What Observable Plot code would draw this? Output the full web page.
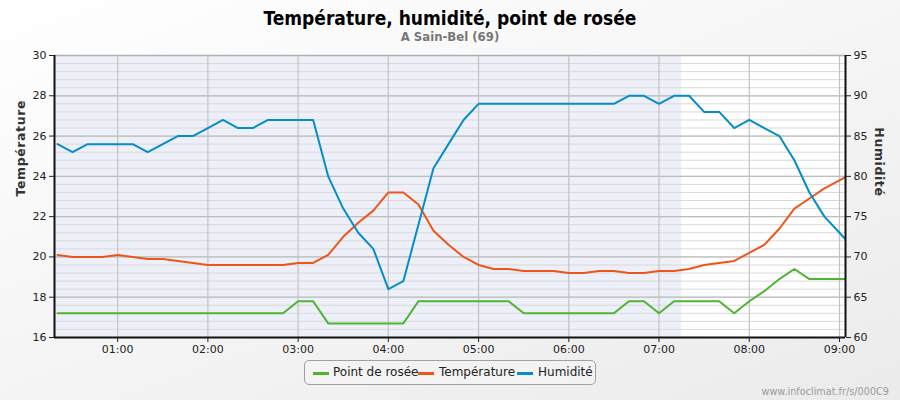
<!DOCTYPE html>
<html>
<head>
<meta charset="utf-8">
<script src="https://cdn.jsdelivr.net/npm/d3@7"></script>
<script src="https://cdn.jsdelivr.net/npm/@observablehq/plot@0.6"></script>
<style>
  body { margin: 0; }
  #wrap { position: relative; width: 900px; height: 400px; overflow: hidden;
    background: linear-gradient(160deg, #ffffff 0%, #f6f6f6 45%, #ebebeb 100%);
    font-family: "DejaVu Sans", sans-serif; }
  #title { position: absolute; top: 6.5px; left: 0; width: 900px; text-align: center;
    font-family: "DejaVu Sans Condensed", "DejaVu Sans", sans-serif; font-stretch: condensed;
    font-weight: bold; font-size: 19px; line-height: 22px; color: #000; }
  #subtitle { position: absolute; top: 29px; left: 0; width: 900px; text-align: center;
    font-family: "DejaVu Sans Condensed", "DejaVu Sans", sans-serif; font-stretch: condensed;
    font-weight: bold; font-size: 13px; line-height: 15px; color: #777; }
  #chart { position: absolute; top: 46px; left: 0; }
  #legend { position: absolute; left: 304px; top: 360px; width: 290px; height: 23px;
    border: 1px solid #a0a0a0; border-radius: 5px; background: rgba(245,245,245,0.6); }
  #legend .sw { position: absolute; top: 11px; width: 16px; height: 3px; }
  #legend .lt { position: absolute; top: 4px; font-size: 12px; line-height: 15px; color: #222; white-space: nowrap; }
  #footer { position: absolute; right: 11px; top: 386px; font-size: 9.7px; color: #9a9a9a; line-height: 12px; }
</style>
</head>
<body>
<div id="wrap">
  <div id="title">Température, humidité, point de rosée</div>
  <div id="subtitle">A Sain-Bel (69)</div>
  <div id="chart"></div>
  <div id="legend"></div>
  <div id="footer">www.infoclimat.fr/s/000C9</div>
</div>
<script>
// ---- data ----
const times = ["00:20","00:30","00:40","00:50","01:00","01:10","01:20","01:30","01:40","01:50",
  "02:00","02:10","02:20","02:30","02:40","02:50","03:00","03:10","03:20","03:30",
  "03:40","03:50","04:00","04:10","04:20","04:30","04:40","04:50","05:00","05:10",
  "05:20","05:30","05:40","05:50","06:00","06:10","06:20","06:30","06:40","06:50",
  "07:00","07:10","07:20","07:30","07:40","07:50","08:00","08:10","08:20","08:30",
  "08:40","08:50","09:00","09:10"];
const temperature = [20.1,20.0,20.0,20.0,20.1,20.0,19.9,19.9,19.8,19.7,
  19.6,19.6,19.6,19.6,19.6,19.6,19.7,19.7,20.1,21.0,
  21.7,22.3,23.2,23.2,22.6,21.3,20.6,20.0,19.6,19.4,
  19.4,19.3,19.3,19.3,19.2,19.2,19.3,19.3,19.2,19.2,
  19.3,19.3,19.4,19.6,19.7,19.8,20.2,20.6,21.4,22.4,
  22.9,23.4,23.8,24.2];
const dewPoint = [17.2,17.2,17.2,17.2,17.2,17.2,17.2,17.2,17.2,17.2,
  17.2,17.2,17.2,17.2,17.2,17.2,17.8,17.8,16.7,16.7,
  16.7,16.7,16.7,16.7,17.8,17.8,17.8,17.8,17.8,17.8,
  17.8,17.2,17.2,17.2,17.2,17.2,17.2,17.2,17.8,17.8,
  17.2,17.8,17.8,17.8,17.8,17.2,17.8,18.3,18.9,19.4,
  18.9,18.9,18.9,18.9];
const humidity = [84,83,84,84,84,84,83,84,85,85,
  86,87,86,86,87,87,87,87,80,76,
  73,71,66,67,74,81,84,87,89,89,
  89,89,89,89,89,89,89,89,90,90,
  89,90,90,88,88,86,87,86,85,82,
  78,75,73,71];
const hourTicks = ["01:00","02:00","03:00","04:00","05:00","06:00","07:00","08:00","09:00"];
const tempTicks = [16,18,20,22,24,26,28,30];
const humidityTicks = [60,65,70,75,80,85,90,95];
const xDomain = ["00:18","09:04"];
const nightEnd = "07:15";
const seriesNames = ["Point de rosée","Température","Humidité"];
const seriesColors = ["#50B432","#ED561B","#058DC7"];

// ---- helpers ----
const parse = s => { const [h, m] = s.split(":").map(Number); return new Date(Date.UTC(2000, 0, 1, h, m)); };
const hToY = h => 16 + (h - 60) * 14 / 35;
const yToH = y => Math.round((y - 16) * 35 / 14 + 60);

const rows = times.map((t, i) => ({t: parse(t), temp: temperature[i], dew: dewPoint[i], hum: hToY(humidity[i])}));
const x0 = parse(xDomain[0]), x1 = parse(xDomain[1]);
const minorGrid = d3.range(60, 96, 1).map(hToY);

const chart = Plot.plot({
  width: 900, height: 310,
  marginLeft: 54, marginRight: 55, marginTop: 9, marginBottom: 19,
  style: {background: "transparent", fontFamily: "DejaVu Sans", fontSize: "11px", color: "#222", overflow: "visible"},
  x: {type: "utc", domain: [x0, x1]},
  y: {domain: [16, 30]},
  marks: [
    Plot.frame({fill: "#ffffff", stroke: "none"}),
    Plot.rect([{a: x0, b: parse(nightEnd)}], {x1: "a", x2: "b", y1: 16, y2: 30, fill: "#edf0f8"}),
    Plot.ruleY(minorGrid, {stroke: "#d9d9d9", strokeWidth: 1}),
    Plot.ruleY(tempTicks, {stroke: "#bdbdbd", strokeWidth: 1.2}),
    Plot.ruleX(hourTicks.map(parse), {stroke: "#c2c2c2", strokeWidth: 1.2}),
    Plot.line(rows, {x: "t", y: "dew", stroke: seriesColors[0], strokeWidth: 2, clip: true}),
    Plot.line(rows, {x: "t", y: "temp", stroke: seriesColors[1], strokeWidth: 2, clip: true}),
    Plot.line(rows, {x: "t", y: "hum", stroke: seriesColors[2], strokeWidth: 2, clip: true}),
    Plot.ruleY([30], {stroke: "#b0b0b0", strokeWidth: 1.5}),
    Plot.ruleX([x0], {stroke: "#111", strokeWidth: 2}),
    Plot.ruleX([x1], {stroke: "#111", strokeWidth: 2}),
    Plot.ruleY([16], {stroke: "#111", strokeWidth: 2}),
    Plot.axisY(tempTicks, {anchor: "left", tickSize: 5, tickPadding: 3, label: null, fontSize: 11}),
    Plot.axisY(humidityTicks.map(hToY), {anchor: "right", tickSize: 5, tickPadding: 3, label: null,
      tickFormat: d => String(yToH(d)), fontSize: 11}),
    Plot.axisX(hourTicks.map(parse), {tickSize: 5, tickPadding: 3, label: null,
      tickFormat: d3.utcFormat("%H:%M"), fontSize: 11}),
    Plot.text(["Température"], {frameAnchor: "left", dx: -34, rotate: -90, text: d => d,
      fontWeight: "bold", fontSize: 12.5, fill: "#333"}),
    Plot.text(["Humidité"], {frameAnchor: "right", dx: 33, rotate: 90, text: d => d,
      fontWeight: "bold", fontSize: 12.5, fill: "#333"})
  ]
});
document.getElementById("chart").appendChild(chart);
chart.querySelectorAll("text").forEach(t => {
  if (t.textContent === "Température" || t.textContent === "Humidité") t.style.letterSpacing = "0.6px";
});

// ---- legend ----
const legend = document.getElementById("legend");
const swX = [8, 113, 212], txX = [28, 134, 233];
seriesNames.forEach((name, i) => {
  const sw = document.createElement("div");
  sw.className = "sw"; sw.style.left = swX[i] + "px"; sw.style.background = seriesColors[i];
  const tx = document.createElement("div");
  tx.className = "lt"; tx.style.left = txX[i] + "px"; tx.textContent = name;
  legend.appendChild(sw); legend.appendChild(tx);
});
</script>
</body>
</html>
